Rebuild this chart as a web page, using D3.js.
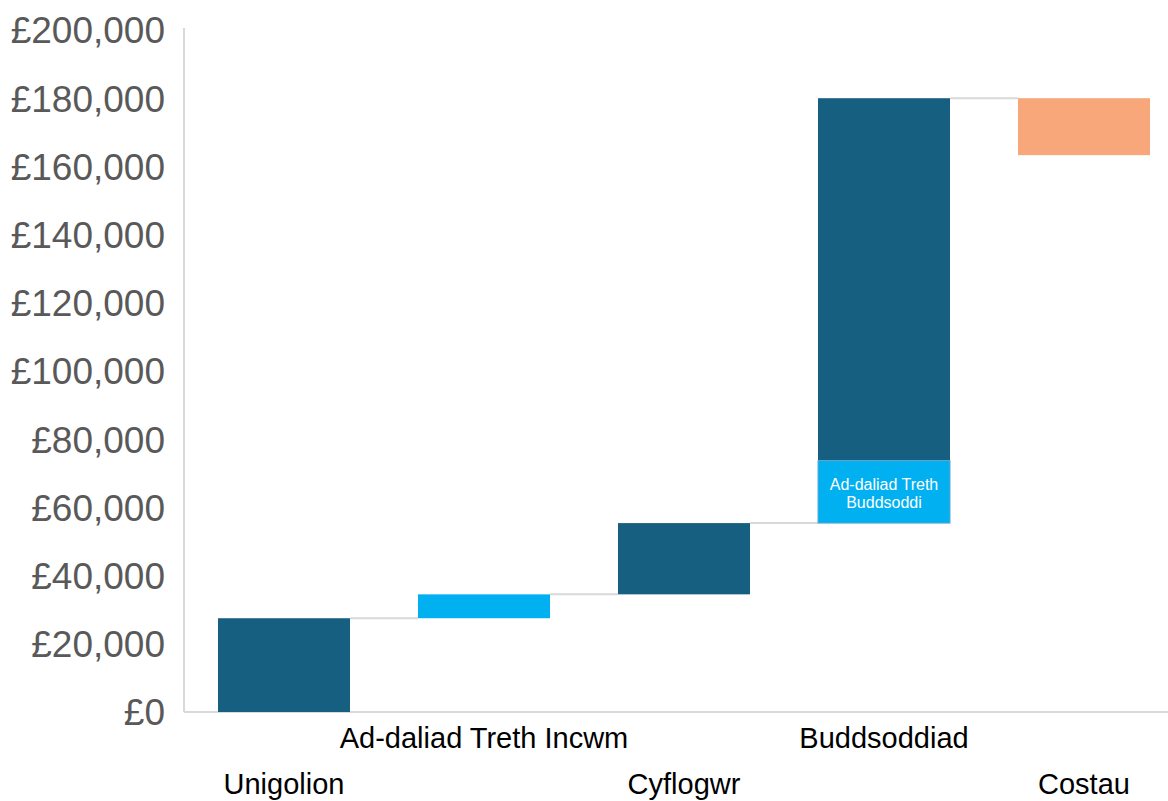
<!DOCTYPE html>
<html><head><meta charset="utf-8">
<script src="https://cdn.jsdelivr.net/npm/d3@7"></script>
<style>html,body{margin:0;padding:0;background:#fff;}svg{display:block;}</style>
</head><body>
<svg id="chart" width="1168" height="801"></svg>
<script>
// Data
const categories = ["Unigolion", "Ad-daliad Treth Incwm", "Cyflogwr", "Buddsoddiad", "Costau"];
const labelRow = [1, 0, 1, 0, 1]; // 0 = upper row, 1 = lower row
const startValues = [0, 27500, 34500, 73700, 180000];
const endValues   = [27500, 34500, 55400, 180000, 163300];
const colorKeys   = ["main", "relief", "main", "main", "cost"];
// Stacked extra segment inside the "Buddsoddiad" bar
const segCategory = ["Buddsoddiad"];
const segStart = [55400];
const segEnd = [73700];
const segLabel = [["Ad-daliad Treth", "Buddsoddi"]];
const yTicks = [0, 20000, 40000, 60000, 80000, 100000, 120000, 140000, 160000, 180000, 200000];

const colors = {main: "#175F80", relief: "#00B0F0", cost: "#F8A77B"};

const svg = d3.select("#chart");
const x = d3.scaleBand().domain(categories).range([184, 1184]).paddingInner(0.34).paddingOuter(0.17);
const y = d3.scaleLinear().domain([0, 200000]).range([712, 30]);

// y axis
const yAxis = d3.axisLeft(y).tickValues(yTicks).tickSize(0).tickPadding(19)
  .tickFormat(d => "£" + d3.format(",")(d));
const gy = svg.append("g").attr("transform", "translate(184,0)").call(yAxis);
gy.select(".domain").attr("stroke", "#D9D9D9").attr("stroke-width", 2).attr("d", "M0,28V712");
gy.selectAll("text").attr("font-family", "Liberation Sans, Arial, sans-serif")
  .attr("font-size", 37).attr("fill", "#595959").attr("dy", "0.35em");

// x axis baseline
svg.append("line").attr("x1", 184).attr("x2", 1168).attr("y1", 712).attr("y2", 712)
  .attr("stroke", "#D9D9D9").attr("stroke-width", 2);

// connectors
for (let i = 0; i < categories.length - 1; i++) {
  const yy = y(endValues[i]);
  svg.append("line")
    .attr("x1", x(categories[i]) + x.bandwidth()).attr("x2", x(categories[i + 1]))
    .attr("y1", yy).attr("y2", yy)
    .attr("stroke", "#D9D9D9").attr("stroke-width", 2);
}

// bars
svg.append("g").selectAll("rect").data(categories).join("rect")
  .attr("x", d => x(d))
  .attr("width", x.bandwidth())
  .attr("y", (d, i) => y(Math.max(startValues[i], endValues[i])))
  .attr("height", (d, i) => Math.abs(y(startValues[i]) - y(endValues[i])))
  .attr("fill", (d, i) => colors[colorKeys[i]]);

// segment
segCategory.forEach((c, i) => {
  const top = y(segEnd[i]), bot = y(segStart[i]);
  svg.append("rect").attr("x", x(c)).attr("width", x.bandwidth())
    .attr("y", top).attr("height", bot - top).attr("fill", colors.relief)
    .attr("stroke", "#5FA8CF").attr("stroke-width", 1);
  const t = svg.append("text").attr("text-anchor", "middle")
    .attr("font-family", "Liberation Sans, Arial, sans-serif").attr("font-size", 16)
    .attr("fill", "#fff");
  const cy = (top + bot) / 2;
  segLabel[i].forEach((ln, k) => {
    t.append("tspan").attr("x", x(c) + x.bandwidth() / 2)
      .attr("y", cy + 2 + (k - 0.5) * 18 + 5).text(ln);
  });
});

// category labels
svg.append("g").selectAll("text").data(categories).join("text")
  .attr("x", d => x(d) + x.bandwidth() / 2)
  .attr("y", (d, i) => labelRow[i] === 0 ? 748 : 794)
  .attr("text-anchor", "middle")
  .attr("font-family", "Liberation Sans, Arial, sans-serif")
  .attr("font-size", 29).attr("fill", "#000")
  .text(d => d);
</script>
</body></html>
